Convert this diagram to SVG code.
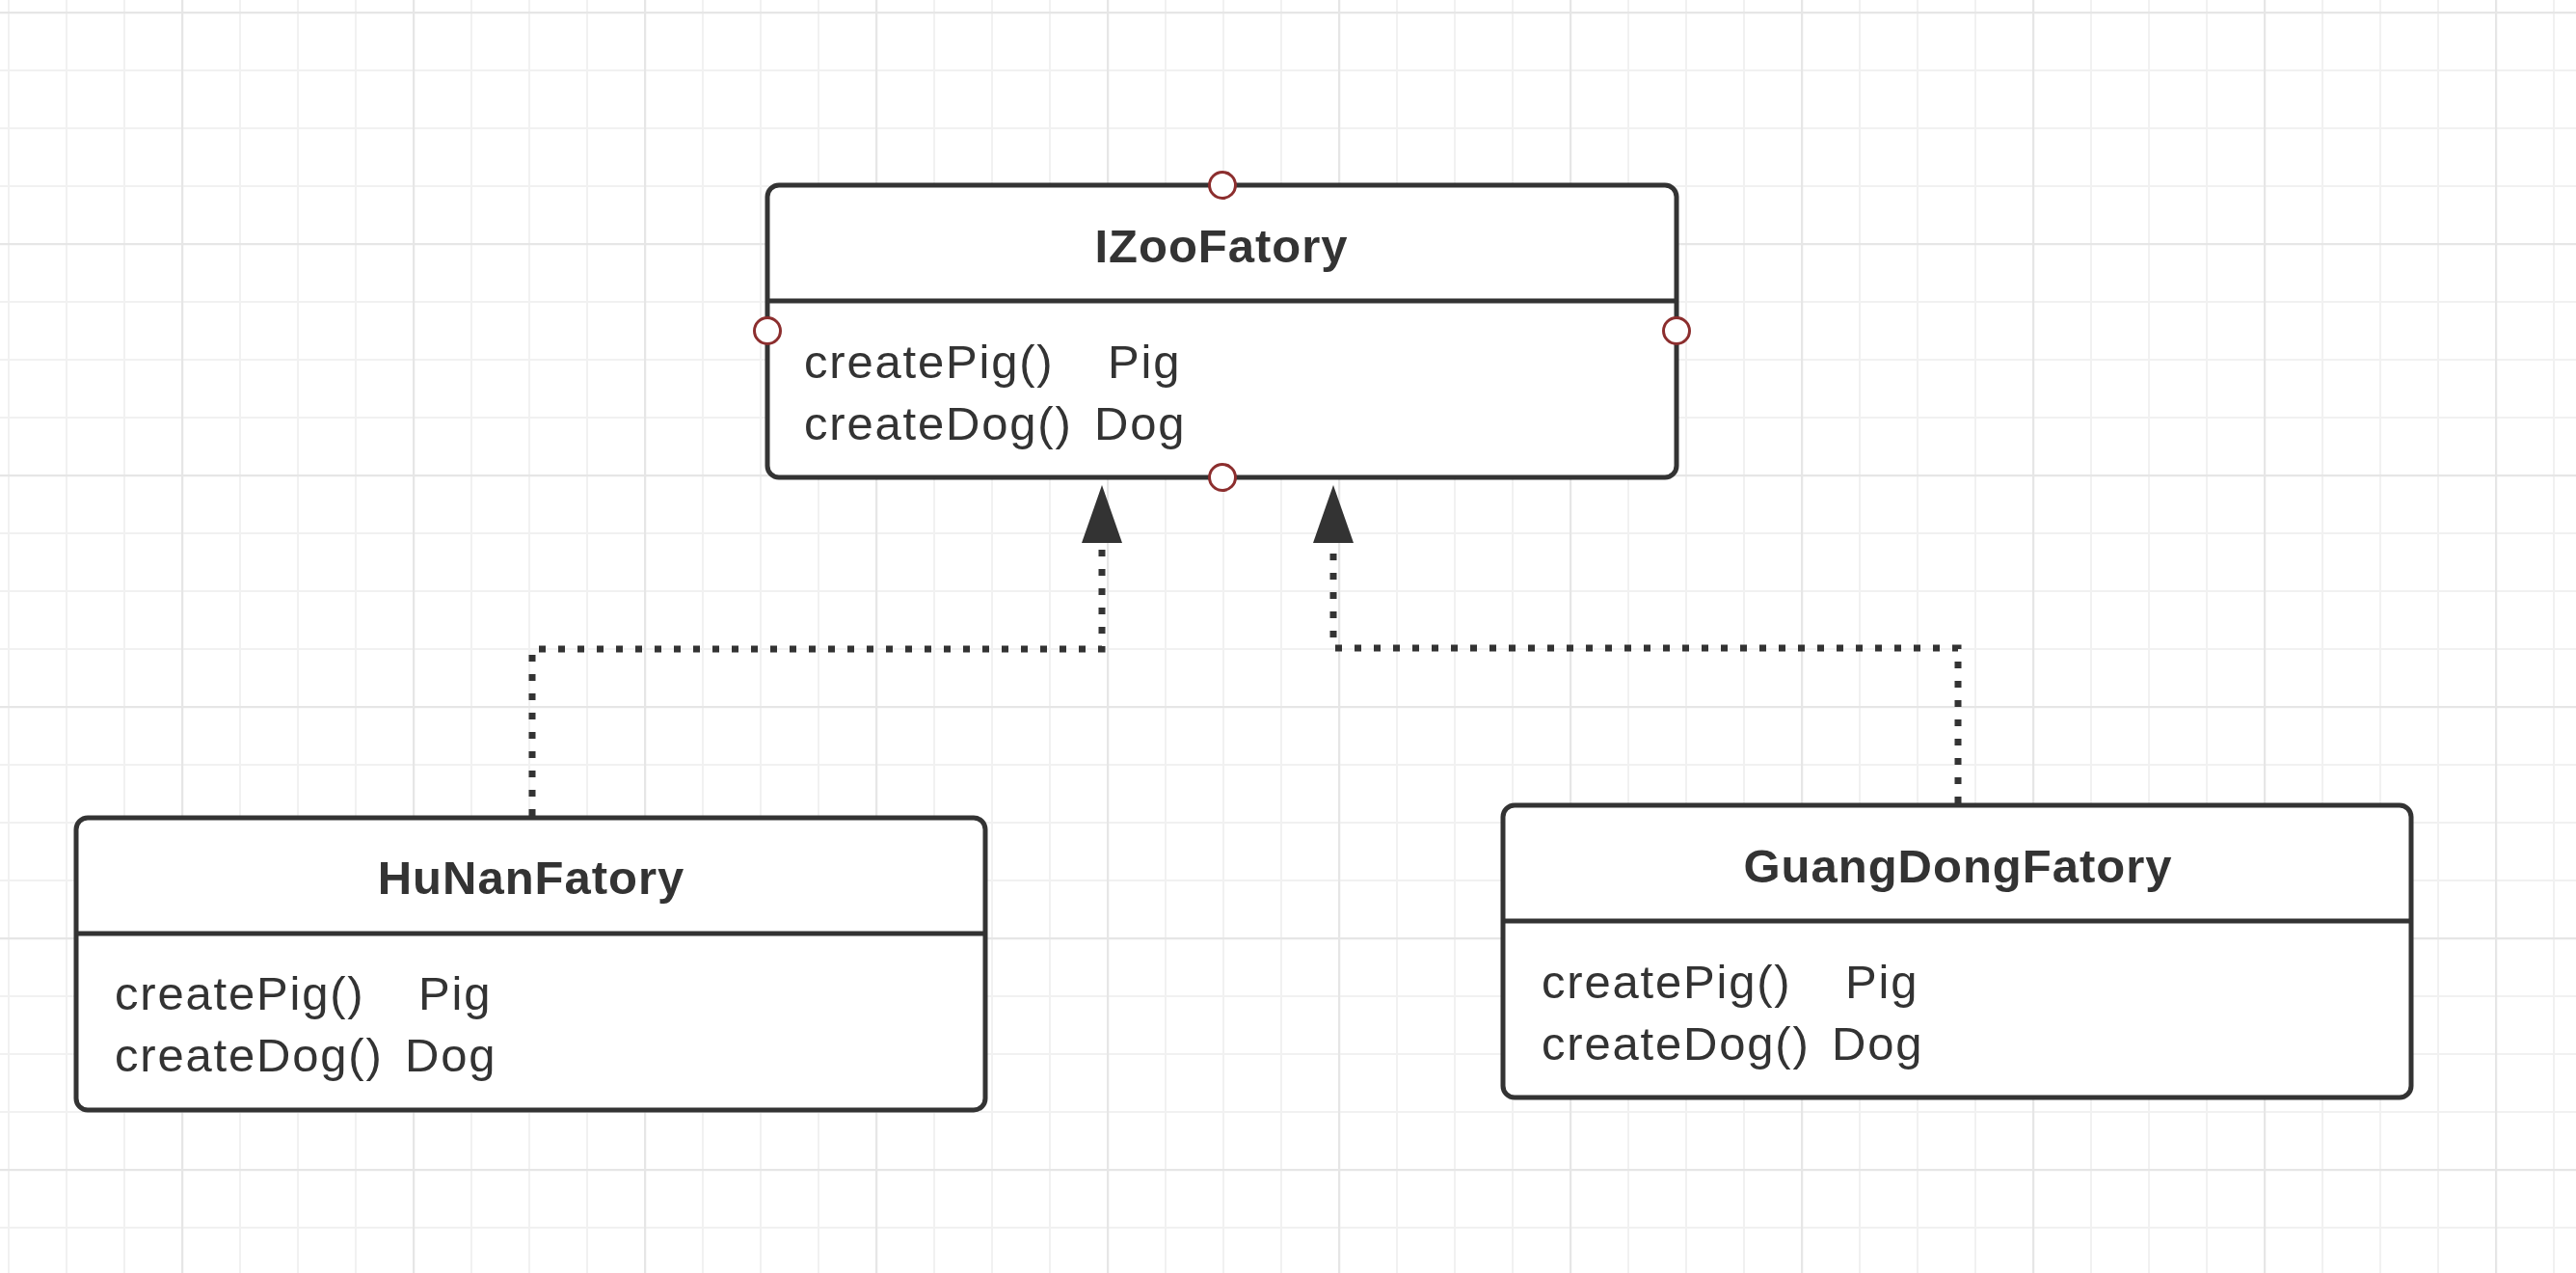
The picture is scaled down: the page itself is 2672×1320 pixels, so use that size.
<svg xmlns="http://www.w3.org/2000/svg" width="2672" height="1320" viewBox="0 0 2672 1320">
  <style>
    .box { fill: #ffffff; stroke: #333333; stroke-width: 5; }
    .div { stroke: #333333; stroke-width: 5; fill: none; }
    .title { font-family: "Liberation Sans", Arial, sans-serif; font-size: 49px; font-weight: bold; fill: #333333; text-anchor: middle; letter-spacing: 1px; }
    .body { font-family: "Liberation Sans", Arial, sans-serif; font-size: 49px; fill: #333333; letter-spacing: 1.8px; }
    .port { fill: #ffffff; stroke: #8c2e2e; stroke-width: 3; }
    .conn { fill: none; stroke: #333333; stroke-width: 7; stroke-dasharray: 7 13; }
  </style>
  <defs>
    <pattern id="gridMinor" x="8" y="12" width="60" height="60" patternUnits="userSpaceOnUse">
      <path d="M1,0V60M0,1H60" stroke="#f1f1f1" stroke-width="2" fill="none"/>
    </pattern>
    <pattern id="gridMajor" x="188" y="12" width="240" height="240" patternUnits="userSpaceOnUse">
      <path d="M1,0V240M0,1H240" stroke="#e6e6e6" stroke-width="2.5" fill="none"/>
    </pattern>
    <marker id="tri" viewBox="0 0 60 42" refX="0" refY="21" markerWidth="60" markerHeight="42" markerUnits="userSpaceOnUse" orient="auto">
      <path d="M0,0 L60,21 L0,42 Z" fill="#333333"/>
    </marker>
  </defs>

  <rect x="0" y="0" width="2672" height="1320" fill="#ffffff"/>
  <rect x="0" y="0" width="2672" height="1320" fill="url(#gridMinor)"/>
  <rect x="0" y="0" width="2672" height="1320" fill="url(#gridMajor)"/>

  <g id="connectors">
    <path class="conn" d="M552,846 V673 H1143 V563" marker-end="url(#tri)"/>
    <path class="conn" d="M2031,833 V672 H1383 V563" marker-end="url(#tri)"/>
  </g>

  <g id="IZooFatory">
    <rect class="box" x="796" y="192" width="943" height="303" rx="12" ry="12"/>
    <line class="div" x1="796" y1="312" x2="1739" y2="312"/>
    <text class="title" x="1267" y="272">IZooFatory</text>
    <text class="body" y="392"><tspan x="834">createPig()</tspan> <tspan x="1149">Pig</tspan></text>
    <text class="body" y="456"><tspan x="834">createDog()</tspan> <tspan x="1135">Dog</tspan></text>
    <circle class="port" cx="1268" cy="192" r="13.5"/>
    <circle class="port" cx="1268" cy="495" r="13.5"/>
    <circle class="port" cx="796" cy="343" r="13.5"/>
    <circle class="port" cx="1739" cy="343" r="13.5"/>
  </g>

  <g id="HuNanFatory">
    <rect class="box" x="79" y="848" width="943" height="303" rx="12" ry="12"/>
    <line class="div" x1="79" y1="968" x2="1022" y2="968"/>
    <text class="title" x="551" y="927">HuNanFatory</text>
    <text class="body" y="1047"><tspan x="119">createPig()</tspan> <tspan x="434">Pig</tspan></text>
    <text class="body" y="1111"><tspan x="119">createDog()</tspan> <tspan x="420">Dog</tspan></text>
  </g>

  <g id="GuangDongFatory">
    <rect class="box" x="1559" y="835" width="942" height="303" rx="12" ry="12"/>
    <line class="div" x1="1559" y1="955" x2="2501" y2="955"/>
    <text class="title" x="2031" y="915">GuangDongFatory</text>
    <text class="body" y="1035"><tspan x="1599">createPig()</tspan> <tspan x="1914">Pig</tspan></text>
    <text class="body" y="1099"><tspan x="1599">createDog()</tspan> <tspan x="1900">Dog</tspan></text>
  </g>
</svg>
